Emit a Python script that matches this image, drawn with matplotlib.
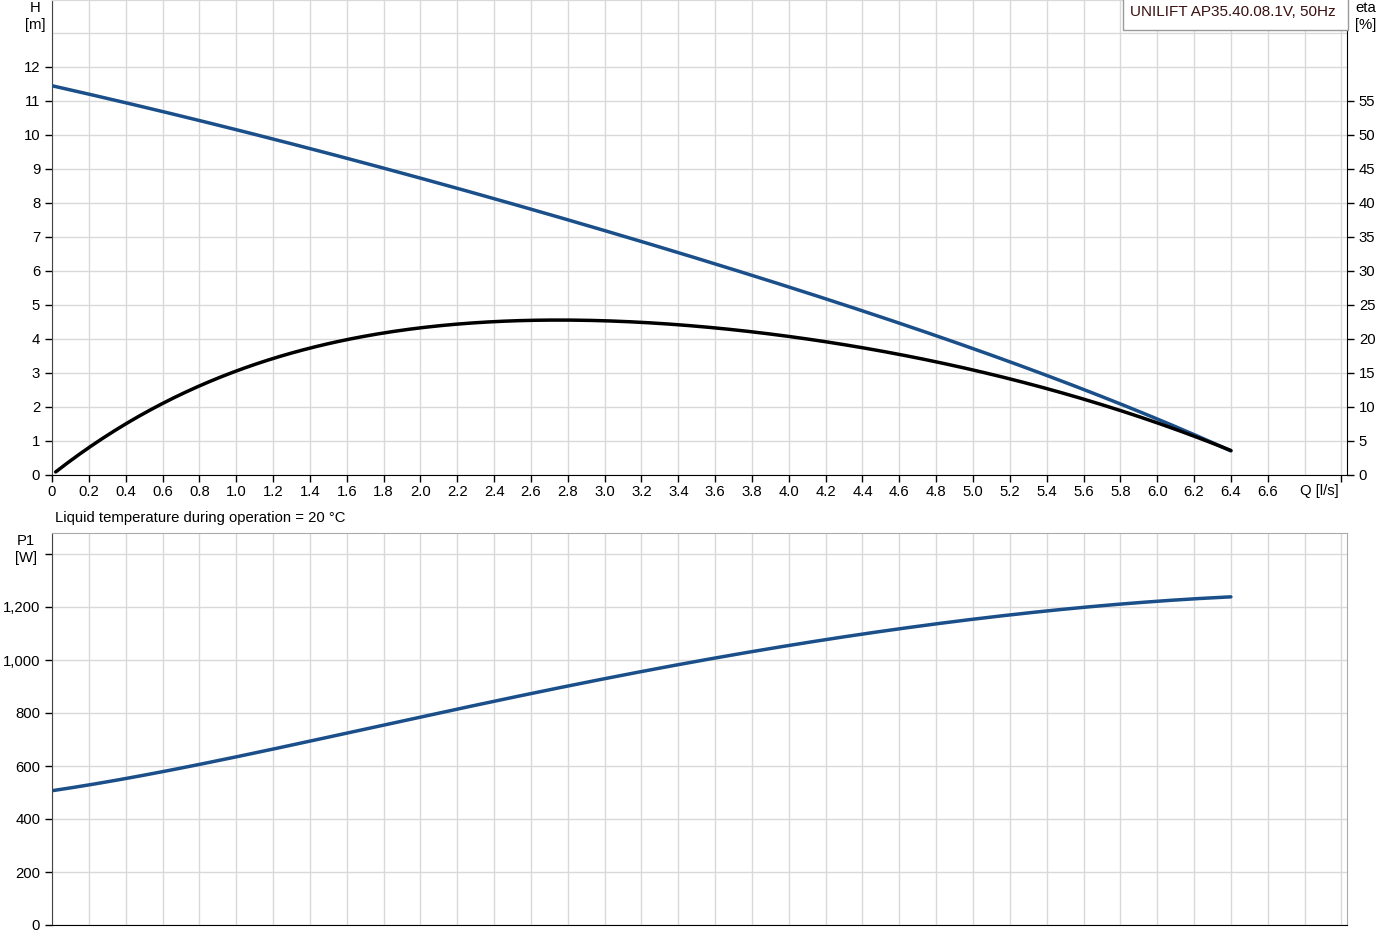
import numpy as np
import matplotlib
matplotlib.use("Agg")
import matplotlib.pyplot as plt
from matplotlib.patches import Rectangle

plt.rcParams['font.family'] = ['Liberation Sans', 'DejaVu Sans']

# Q-H curve
q_h = [0.0, 0.5, 1.0, 1.5, 2.0, 2.5, 3.0, 3.5, 4.0, 4.5, 5.0, 5.5, 6.0, 6.2, 6.4]
h = [11.45, 10.82, 10.15, 9.46, 8.74, 7.98, 7.18, 6.37, 5.53, 4.64, 3.74, 2.72, 1.64, 1.18, 0.72]

# efficiency curve
q_eta = [0.02, 0.2, 0.4, 0.6, 1.0, 1.4, 2.0, 2.6, 2.8, 3.4, 4.0, 4.6, 5.0, 5.6, 6.0, 6.4]
eta = [0.4, 4.1, 7.5, 10.6, 15.1, 18.7, 21.8, 22.6, 22.8, 22.1, 20.4, 17.7, 15.5, 11.1, 7.7, 3.6]

# power curve
q_p = [0.0, 0.5, 1.0, 1.5, 2.0, 2.5, 3.0, 3.5, 4.0, 4.5, 5.0, 5.5, 6.0, 6.4]
p1 = [506, 567, 635, 707, 783, 860, 932, 995, 1053, 1107, 1155, 1192, 1222, 1238]

q_ticks = [round(0.2 * i, 1) for i in range(34)]
h_ticks = list(range(13))
eta_ticks = list(range(0, 60, 5))
p_ticks = list(range(0, 1600, 200))

W, H = 1385, 951
fig = plt.figure(figsize=(W / 100, H / 100), dpi=100)
x0, x1 = 52 / W, 1347 / W
ax = fig.add_axes([x0, 1 - 475 / H, x1 - x0, 475 / H])
axb = fig.add_axes([x0, 1 - 925 / H, x1 - x0, (925 - 533) / H])

blue = '#1a4f8a'
gridc = '#d9d9d9'
fs = 10.7
xmax = 1295 / 184.2

def smooth(xs, ys, n=300):
    c = np.polyfit(xs, ys, 5)
    xx = np.linspace(xs[0], xs[-1], n)
    return xx, np.polyval(c, xx)

# top chart
ax.set_xlim(0, xmax)
ax.set_ylim(0, 475 / 34)
ax.set_xticks(q_ticks + [7.0])
ax.set_xticklabels([('0' if v == 0 else f'{v:.1f}') for v in q_ticks] + [''])
ax.set_xticks([6.8], minor=True)
ax.set_yticks(h_ticks)
ax.set_yticks([13], minor=True)
ax.tick_params(axis='y', which='minor', length=0)
ax.tick_params(axis='x', which='minor', length=0)
ax.grid(True, which='both', color=gridc, lw=1)
ax.set_axisbelow(True)
ax.tick_params(labelsize=fs, length=5, width=1, colors='black')
ax.tick_params(axis='x', pad=2)
ax.spines['top'].set_color(gridc)
ax.spines['left'].set_color('#444444')
ax.spines['right'].set_visible(False)
ax.text(6.88, -0.25, 'Q [l/s]', ha='center', va='top', fontsize=fs)

xx, yy = smooth(q_h, h)
ax.plot(xx, yy, color=blue, lw=2.5, solid_capstyle='round', zorder=3)

ax2 = ax.twinx()
ax2.set_ylim(0, 475 / 34 * 5)
ax2.set_yticks(eta_ticks)
ax2.tick_params(labelsize=fs, length=5, width=1)
ax2.spines['right'].set_color('black')
ax2.spines['top'].set_color(gridc)
ax2.spines['left'].set_visible(False)
ax2.spines['bottom'].set_visible(False)
xe, ye = smooth(q_eta, eta)
ax2.plot(xe, ye, color='black', lw=2.5, solid_capstyle='round', zorder=4)

fig.text(35 / W, 1 - 8 / H, 'H', ha='center', va='center', fontsize=fs)
fig.text(35 / W, 1 - 25 / H, '[m]', ha='center', va='center', fontsize=fs)
fig.text(1366 / W, 1 - 8 / H, 'eta', ha='center', va='center', fontsize=fs)
fig.text(1366 / W, 1 - 25 / H, '[%]', ha='center', va='center', fontsize=fs)

fig.patches.append(Rectangle((1123 / W, 1 - 30 / H), 225 / W, 32 / H,
                             transform=fig.transFigure, fc='white', ec='#999999',
                             lw=1, zorder=10))
fig.text(1130 / W, 1 - 12 / H, 'UNILIFT AP35.40.08.1V, 50Hz', ha='left', va='center',
         fontsize=11, color='#3a1010', zorder=11)

# bottom chart
axb.set_xlim(0, xmax)
axb.set_ylim(0, 392 / 0.265)
axb.set_xticks(q_ticks + [6.8, 7.0])
axb.tick_params(axis='x', length=0, labelbottom=False)
axb.set_yticks(p_ticks)
axb.set_yticklabels([f'{v:,}' if v < 1400 else '' for v in p_ticks])
axb.tick_params(axis='y', labelsize=fs, length=5, width=1)
axb.grid(True, color=gridc, lw=1)
axb.set_axisbelow(True)
axb.spines['top'].set_color('#aaaaaa')
axb.spines['right'].set_color('#aaaaaa')
axb.spines['left'].set_color('#444444')
axb.spines['bottom'].set_color('black')
xp, yp = smooth(q_p, p1)
axb.plot(xp, yp, color=blue, lw=2.5, solid_capstyle='round')

fig.text(26 / W, 1 - 541 / H, 'P1', ha='center', va='center', fontsize=fs)
fig.text(26 / W, 1 - 558 / H, '[W]', ha='center', va='center', fontsize=fs)
fig.text(55 / W, 1 - 518 / H, 'Liquid temperature during operation = 20 \u00b0C',
         ha='left', va='center', fontsize=fs)

fig.savefig('out.png', dpi=100)
